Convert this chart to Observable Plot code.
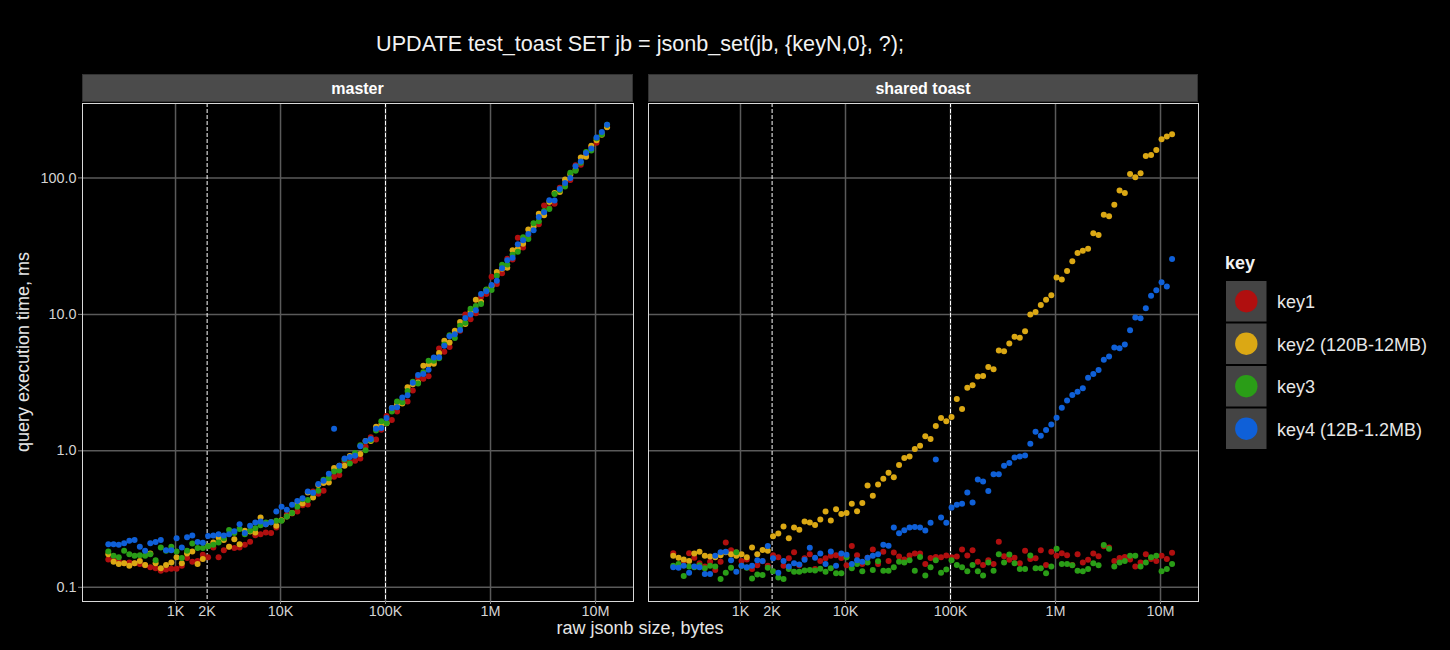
<!DOCTYPE html>
<html>
<head>
<meta charset="utf-8">
<script src="https://cdn.jsdelivr.net/npm/d3@7"></script>
<script src="https://cdn.jsdelivr.net/npm/@observablehq/plot@0.6"></script>
<style>
  html, body { margin: 0; padding: 0; background: #000; }
  #root { position: relative; width: 1450px; height: 650px; background: #000; overflow: hidden;
          font-family: "Liberation Sans", Arial, Helvetica, sans-serif; }
  #root > svg.plot { position: absolute; }
  #overlay { position: absolute; left: 0; top: 0; pointer-events: none; }
</style>
</head>
<body>
<div id="root"></div>
<script>
// ---------- data ----------
const title = "UPDATE test_toast SET jb = jsonb_set(jb, {keyN,0}, ?);";
const facets = ["master", "shared toast"];
const keys = ["key1", "key2 (120B-12MB)", "key3", "key4 (12B-1.2MB)"];
const keyColors = ["#b00f0f", "#dba814", "#2a9d17", "#0f60d8"];
const xTicks = [1000, 2000, 10000, 100000, 1000000, 10000000];
const xTickLabels = ["1K", "2K", "10K", "100K", "1M", "10M"];
const yTicks = [0.1, 1, 10, 100];
const yTickLabels = ["0.1", "1.0", "10.0", "100.0"];
const xGrid = [1000, 10000, 100000, 1000000, 10000000];
const xMarkers = [2000, 100000];
const xLabel = "raw jsonb size, bytes";
const yLabel = "query execution time, ms";

// raw jsonb size, bytes (shared by all series)
const sizes = [229, 257, 288, 324, 363, 407, 457, 513, 575, 646,
  724, 813, 912, 1023, 1148, 1288, 1445, 1622, 1820, 2042,
  2291, 2570, 2884, 3236, 3631, 4074, 4571, 5129, 5754, 6457,
  7244, 8128, 9120, 10233, 11482, 12882, 14454, 16218, 18197, 20417,
  22909, 25704, 28840, 32359, 36308, 40738, 45709, 51286, 57544, 64565,
  72444, 81283, 91201, 102329, 114815, 128825, 144544, 162181, 181970, 204174,
  229087, 257040, 288403, 323594, 363078, 407380, 457088, 512861, 575440, 645654,
  724436, 812831, 912011, 1023293, 1148154, 1288250, 1445440, 1621810, 1819701, 2041738,
  2290868, 2570396, 2884032, 3235937, 3630781, 4073803, 4570882, 5128614, 5754399, 6456542,
  7244360, 8128305, 9120108, 10232930, 11481536, 12882496];

// query execution time, ms -- master
const masterKey1 = [.16,.158,.155,.15,.152,.15,.148,.145,.14,.138,
  .132,.135,.137,.137,.144,.164,.154,.156,.173,.166,
  .196,.166,.187,.198,.194,.196,.205,.216,.241,.245,
  .252,.25,.274,.31,.34,.347,.359,.399,.405,.504,
  .484,.51,.63,.646,.666,.84,.825,.846,.88,1.07,
  1.26,1.21,1.43,1.8,1.68,1.94,2.34,2.3,2.77,3.43,
  3.37,3.52,4.57,5.63,5.32,5.76,7.29,7.6,10.0,9.2,
  10.2,13.4,14.1,18.9,16.7,20,25.6,25.2,36.4,30.9,
  37.2,46.1,45.7,62.8,60.3,64.6,84.6,89.1,96.7,124,
  125,146,170,181,213,238];
const masterKey2 = [.175,.154,.148,.15,.144,.15,.156,.146,.177,.15,
  .138,.146,.152,.166,.15,.177,.183,.148,.161,.201,
  .213,.232,.222,.198,.225,.207,.26,.256,.252,.325,
  .29,.3,.282,.31,.33,.35,.41,.412,.495,.456,
  .562,.58,.586,.748,.777,.776,.918,.938,.95,1.18,
  1.18,1.5,1.55,1.59,2.06,2.19,2.22,2.92,3.07,3.17,
  4.21,4.29,4.34,5.22,6.41,6.21,7.58,8.8,8.49,10.5,
  12.8,12.3,15.1,16.1,20.4,21.6,22,29.5,30.3,32.9,
  41.9,43.9,54.7,53.3,66.7,77.5,78.9,97.4,106,115,
  141,143,172,189,207,235];
const masterKey3 = [.183,.17,.166,.185,.175,.17,.172,.17,.175,.158,
  .196,.185,.198,.183,.164,.185,.209,.194,.194,.2,
  .205,.213,.229,.263,.25,.267,.245,.26,.271,.285,
  .298,.3,.307,.307,.33,.35,.39,.441,.437,.49,
  .51,.615,.63,.707,.718,.864,.808,.966,1.1,1.01,
  1.2,1.41,1.65,1.6,1.94,2.3,2.27,2.74,3.21,3.11,
  3.77,4.58,4.57,4.76,6.01,7.04,6.72,8.24,8.67,11,
  11.5,11.9,15.2,15.1,19.2,23.1,23.2,27.3,28.8,36.7,
  35.7,46.5,48.2,57.2,59.1,76.1,81.3,86.4,109,113,
  129,155,159,195,209,245];
const masterKey4 = [.207,.207,.205,.21,.219,.222,.198,.185,.21,.215,
  .222,.187,.187,.229,.196,.233,.24,.215,.212,.238,
  .24,.245,.24,.245,.257,.29,.25,.283,.298,.303,
  .29,.3,.359,.39,.37,.402,.429,.449,.504,.494,
  .572,.603,.68,1.45,.777,.88,.901,.92,1.08,1.18,
  1.22,1.45,1.47,1.74,2.06,2.09,2.46,2.56,3.15,3.6,
  3.66,3.93,4.84,4.86,5.89,6.91,7.15,7.68,9.39,10,
  10.7,14.1,14.8,16.4,17.6,21.8,24.9,26,32.7,35,
  38.8,41.3,51.7,56.1,68.6,68.2,82.9,91.9,99.8,122,
  132,152,164,198,217,245];

// query execution time, ms -- shared toast
const toastKey1 = [.178,.144,.156,.178,.165,.15,.142,.154,.134,.154,
  .213,.187,.181,.156,.16,.136,.145,.155,.144,.172,
  .166,.144,.163,.181,.145,.163,.175,.136,.156,.163,
  .17,.172,.164,.145,.201,.172,.148,.165,.189,.148,
  .182,.156,.18,.168,.16,.171,.177,.177,.148,.164,
  .167,.166,.171,.166,.168,.189,.171,.187,.154,.146,
  .158,.148,.216,.169,.159,.165,.15,.185,.161,.163,
  .187,.146,.182,.17,.178,.172,.146,.175,.152,.159,
  .177,.169,.2,.196,.156,.164,.167,.16,.142,.152,
  .175,.161,.156,.17,.161,.179];
const toastKey2 = [.17,.165,.16,.156,.177,.182,.17,.168,.166,.172,
  .181,.175,.17,.175,.166,.196,.175,.188,.185,.237,
  .248,.279,.229,.274,.264,.303,.298,.286,.314,.359,
  .309,.374,.344,.35,.409,.361,.414,.557,.468,.566,
  .624,.69,.641,.789,.885,.908,1.03,1.09,1.28,1.22,
  1.52,1.74,1.65,1.77,2.4,2.03,2.9,3.03,3.5,3.54,
  4.12,3.97,5.43,5.37,6.11,6.87,6.73,7.53,10.0,10.4,
  11.7,12.8,13.8,18.6,18.0,20.8,24.5,28.2,29.3,30.3,
  39.3,38.2,53.6,52.4,63.7,80.7,77.6,107,101,108,
  145,147,160,192,201,209];
const toastKey3 = [.144,.148,.121,.142,.14,.145,.138,.144,.142,.115,
  .128,.139,.181,.144,.139,.116,.124,.123,.139,.131,
  .118,.115,.136,.13,.13,.133,.134,.133,.137,.13,
  .138,.127,.127,.166,.138,.148,.131,.152,.134,.155,
  .132,.132,.14,.154,.152,.158,.132,.167,.122,.14,
  .158,.128,.135,.158,.146,.14,.131,.146,.131,.122,
  .152,.132,.175,.152,.174,.15,.136,.136,.171,.138,
  .138,.127,.142,.192,.148,.148,.145,.132,.131,.136,
  .15,.145,.204,.192,.142,.152,.156,.17,.17,.142,
  .152,.166,.17,.131,.136,.148];
const toastKey4 = [.14,.139,.144,.128,.142,.14,.125,.125,.17,.181,
  .182,.158,.13,.144,.14,.144,.158,.156,.201,.163,
  .128,.156,.142,.15,.147,.159,.195,.165,.177,.148,
  .183,.144,.177,.173,.148,.158,.154,.165,.17,.175,
  .205,.202,.274,.249,.262,.274,.277,.274,.261,.297,
  .863,.325,.297,.384,.402,.409,.495,.419,.616,.596,
  .507,.675,.675,.777,.813,.893,.908,.924,1.125,1.38,
  1.29,1.42,1.56,1.75,2.07,2.34,2.57,2.71,2.88,3.43,
  3.65,3.92,4.66,4.91,5.71,5.65,6.01,7.66,9.48,9.38,
  11.1,13.7,15.0,17.2,16.0,25.5];

const masterSeries = [masterKey1, masterKey2, masterKey3, masterKey4];
const toastSeries = [toastKey1, toastKey2, toastKey3, toastKey4];

// ---------- build ----------
const FONT = '"Liberation Sans", Arial, Helvetica, sans-serif';
const root = document.getElementById("root");

function rows(series) {
  return series.flatMap((arr, k) => arr.map((v, i) => ({size: sizes[i], time: v, key: keys[k]})));
}
const fmtX = d => xTickLabels[xTicks.indexOf(d)];
const fmtY = d => yTickLabels[yTicks.indexOf(d)];

function panel(series, {left, width, marginLeft, domainX, showY}) {
  const svg = Plot.plot({
    width, height: 523,
    marginLeft, marginRight: 2, marginTop: 1, marginBottom: 24,
    style: {background: "transparent", fontFamily: FONT, fontSize: "14.4px", overflow: "visible"},
    x: {type: "log", domain: domainX, axis: null},
    y: {type: "log", domain: [0.0787, 351], axis: null},
    color: {domain: keys, range: keyColors},
    marks: [
      Plot.ruleY(yTicks, {stroke: "#5a5a5a", strokeWidth: 1.5}),
      Plot.ruleX(xGrid, {stroke: "#5a5a5a", strokeWidth: 1.5}),
      Plot.ruleX(xMarkers, {stroke: "#ffffff", strokeWidth: 1, strokeDasharray: "4,2"}),
      Plot.dot(rows(series), {x: "size", y: "time", fill: "key", r: 3}),
      Plot.frame({stroke: "#d9d9d9", strokeWidth: 1}),
      Plot.axisX({ticks: xTicks, tickFormat: fmtX, tickSize: 3, tickPadding: 1, stroke: "#8a8a8a", fill: "#d4d4d4", label: null}),
      showY ? Plot.axisY({ticks: yTicks, tickFormat: fmtY, tickSize: 4, tickPadding: 2, stroke: "#8a8a8a", fill: "#d4d4d4", label: null}) : null
    ]
  });
  svg.classList.add("plot");
  svg.style.left = left + "px";
  svg.style.top = "102px";
  root.appendChild(svg);
}

panel(masterSeries, {left: 0, width: 635, marginLeft: 82, domainX: [130, 2.3e7], showY: true});
panel(toastSeries, {left: 646, width: 554, marginLeft: 2, domainX: [133, 2.3e7], showY: false});

// overlay: title, strips, axis titles, legend
const W = 1450, H = 650;
const ov = d3.select(root).append("svg").attr("id", "overlay")
  .attr("width", W).attr("height", H).style("font-family", FONT);

ov.append("text").attr("x", 640).attr("y", 51).attr("text-anchor", "middle")
  .attr("fill", "#f2f2f2").style("font-size", "21.6px").text(title);

const strips = [{x: 82, w: 551}, {x: 648, w: 550}];
facets.forEach((f, i) => {
  const s = strips[i];
  ov.append("rect").attr("x", s.x + 0.5).attr("y", 74.5).attr("width", s.w - 1).attr("height", 27)
    .attr("fill", "#4b4b4b").attr("stroke", "#333");
  ov.append("text").attr("x", s.x + s.w / 2).attr("y", 94).attr("text-anchor", "middle")
    .attr("fill", "#ffffff").style("font-size", "16px").style("font-weight", "bold").text(f);
});

ov.append("text").attr("x", 640).attr("y", 634).attr("text-anchor", "middle")
  .attr("fill", "#e6e6e6").style("font-size", "18px").text(xLabel);
ov.append("text").attr("transform", "translate(29,352) rotate(-90)").attr("text-anchor", "middle")
  .attr("fill", "#e6e6e6").style("font-size", "18px").text(yLabel);

ov.append("text").attr("x", 1225).attr("y", 269).attr("fill", "#f2f2f2")
  .style("font-size", "18px").style("font-weight", "bold").text("key");
keys.forEach((k, i) => {
  const y0 = 281 + i * 42.5;
  ov.append("rect").attr("x", 1226).attr("y", y0).attr("width", 40.5).attr("height", 40.5).attr("fill", "#444444");
  ov.append("circle").attr("cx", 1246.3).attr("cy", y0 + 20.2).attr("r", 11.2).attr("fill", keyColors[i]);
  ov.append("text").attr("x", 1277).attr("y", y0 + 27).attr("fill", "#e6e6e6")
    .style("font-size", "18px").text(k);
});
</script>
</body>
</html>
